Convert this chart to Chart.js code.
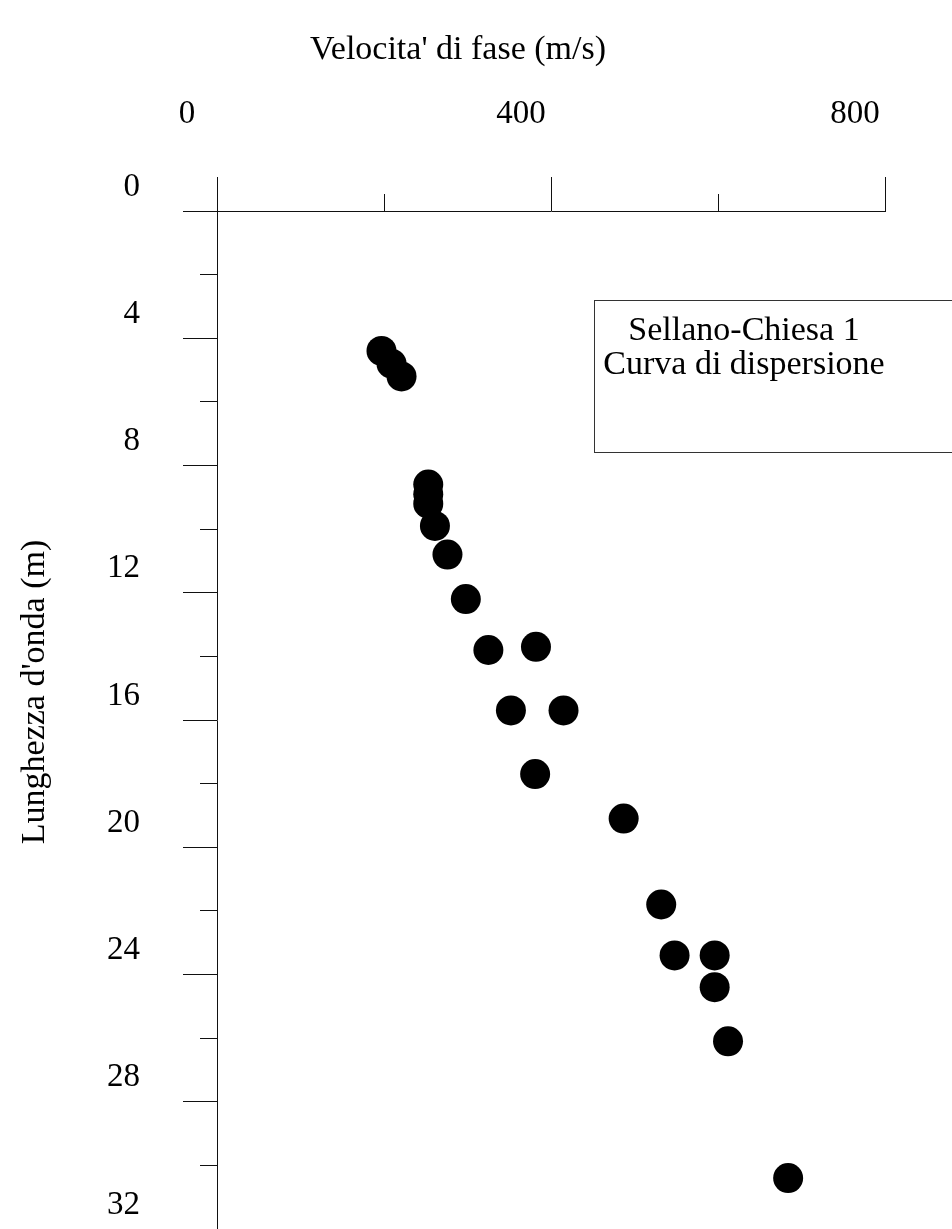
<!DOCTYPE html>
<html>
<head>
<meta charset="utf-8">
<title>Curva di dispersione</title>
<script src="https://cdn.jsdelivr.net/npm/chart.js@4.4.0/dist/chart.umd.min.js"></script>
<style>
  html, body { margin: 0; padding: 0; background: #fff; }
  canvas { display: block; }
</style>
</head>
<body>
<canvas id="disp" width="952" height="1229"></canvas>
<script>
// velocita' di fase (m/s) e lunghezza d'onda (m) dei punti misurati
var velocita = [197, 209, 221, 253, 253, 253, 261, 276, 298, 325, 382,
                352, 415, 381, 487, 532, 548, 596, 596, 612, 684];
var lunghezza = [4.4, 4.8, 5.2, 8.6, 8.9, 9.2, 9.9, 10.8, 12.2, 13.8, 13.7,
                 15.7, 15.7, 17.7, 19.1, 21.8, 23.4, 23.4, 24.4, 26.1, 30.4];

var etichetteX = [0, 400, 800];
var etichetteY = [0, 4, 8, 12, 16, 20, 24, 28, 32];

var titoloX = "Velocita' di fase (m/s)";
var titoloY = "Lunghezza d'onda (m)";
var riquadroTesto = ["Sellano-Chiesa 1", "Curva di dispersione"];

var serif = '"Liberation Serif", "Times New Roman", serif';

var punti = velocita.map(function(v, i) {
	return { x: v, y: lunghezza[i] };
});

// tacche lunghe dove c'e' l'etichetta, corte (meta') nelle altre
function trattoTacca(lista) {
	return function(ctx) {
		return lista.indexOf(ctx.tick.value) >= 0 ? [] : [17, 17];
	};
}

// dimensione fissa dell'asse, senza margini extra per le etichette
function misuraFissa(lato, valore) {
	return function(s) {
		s[lato] = valore;
		s.paddingTop = 0;
		s.paddingBottom = 0;
		s.paddingLeft = 0;
		s.paddingRight = 0;
	};
}

// titoli degli assi e riquadro con la descrizione
var testi = {
	id: 'testi',
	afterDraw: function(chart) {
		var ctx = chart.ctx;
		ctx.save();
		ctx.fillStyle = '#000';
		ctx.font = '34px ' + serif;
		ctx.textAlign = 'center';
		ctx.textBaseline = 'alphabetic';
		ctx.fillText(titoloX, 458, 59);

		ctx.save();
		ctx.translate(35, 692);
		ctx.rotate(-Math.PI / 2);
		ctx.textBaseline = 'middle';
		ctx.fillText(titoloY, 0, 0);
		ctx.restore();

		ctx.strokeStyle = '#333';
		ctx.lineWidth = 1;
		ctx.strokeRect(594.5, 300.5, 400, 152);
		ctx.fillText(riquadroTesto[0], 744, 340);
		ctx.fillText(riquadroTesto[1], 744, 374);
		ctx.restore();
	}
};

var config = {
	type: 'scatter',
	data: {
		datasets: [{
			data: punti,
			pointRadius: 15,
			pointHoverRadius: 15,
			backgroundColor: '#000',
			borderWidth: 0,
			clip: false
		}]
	},
	options: {
		responsive: false,
		animation: false,
		devicePixelRatio: 1,
		layout: {
			autoPadding: false,
			padding: { left: 0, top: 0, right: 67, bottom: 0 }
		},
		plugins: {
			legend: { display: false },
			tooltip: { enabled: false }
		},
		scales: {
			x: {
				type: 'linear',
				position: 'top',
				min: 0,
				max: 800,
				afterFit: misuraFissa('height', 211),
				border: { color: '#111', width: 1 },
				grid: {
					drawOnChartArea: false,
					tickLength: 34,
					tickColor: '#111',
					tickWidth: 1,
					tickBorderDash: trattoTacca(etichetteX),
					tickBorderDashOffset: 17
				},
				ticks: {
					stepSize: 200,
					autoSkip: false,
					maxRotation: 0,
					labelOffset: -30,
					padding: 43,
					color: '#000',
					font: { family: serif, size: 33 },
					callback: function(v) {
						return etichetteX.indexOf(v) >= 0 ? v : '';
					}
				}
			},
			y: {
				type: 'linear',
				position: 'left',
				reverse: true,
				min: 0,
				max: 32,
				afterFit: misuraFissa('width', 217),
				border: { color: '#111', width: 1 },
				grid: {
					drawOnChartArea: false,
					tickLength: 34,
					tickColor: '#111',
					tickWidth: 1,
					tickBorderDash: trattoTacca(etichetteY),
					tickBorderDashOffset: 17
				},
				ticks: {
					stepSize: 2,
					autoSkip: false,
					labelOffset: -24,
					padding: 43,
					color: '#000',
					font: { family: serif, size: 33 },
					callback: function(v) {
						return etichetteY.indexOf(v) >= 0 ? v : '';
					}
				}
			}
		}
	},
	plugins: [testi]
};

window.onload = function() {
	window.grafico = new Chart(document.getElementById('disp'), config);
};
</script>
</body>
</html>
